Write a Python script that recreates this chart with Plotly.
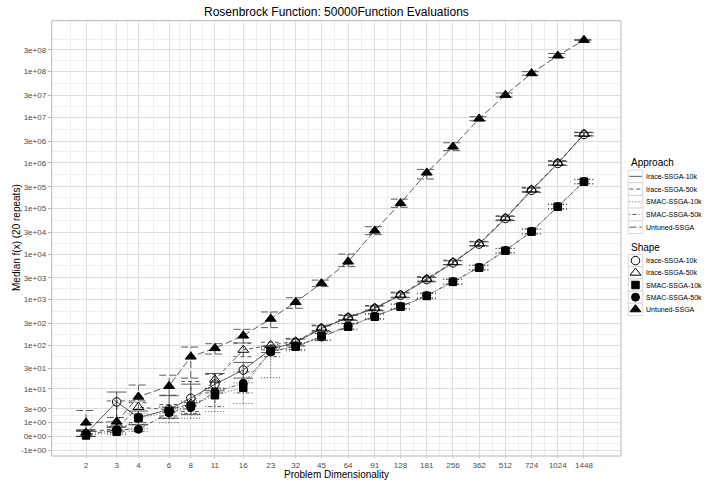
import numpy as np
import plotly.graph_objects as go

# ---------------- data ----------------
dims = [2, 3, 4, 6, 8, 11, 16, 23, 32, 45, 64, 91, 128, 181, 256, 362, 512, 724, 1024, 1448]

approaches = ["Irace-SSGA-10k", "Irace-SSGA-50k", "SMAC-SSGA-10k", "SMAC-SSGA-50k", "Untuned-SSGA"]

irace10_med = [0.15, 4.7, 1.6, 2.9, 5.9, 13, 27.6, 80, 115, 230, 400, 640, 1250, 2750, 6400, 16500, 60000, 250000, 970000, 4.2e6]
irace10_lo = [0.0, 0.6, 0.8, 1.5, 2.0, 9.0, 18, 68, 95, 200, 350, 570, 1100, 2450, 5800, 15000, 54000, 225000, 880000, 3.9e6]
irace10_hi = [0.4, 8.4, 2.6, 6.8, 13, 23, 41, 95, 135, 265, 450, 720, 1400, 3050, 7100, 18500, 67000, 280000, 1.08e6, 4.6e6]

irace50_med = [0.2, 0.5, 3.4, 2.8, 4.2, 16.5, 78, 100, 120, 240, 410, 660, 1280, 2850, 6600, 17000, 62000, 260000, 1.0e6, 4.3e6]
irace50_lo = [0.0, 0.3, 1.0, 1.8, 2.5, 8, 55, 78, 100, 210, 360, 590, 1130, 2550, 5900, 15300, 56000, 235000, 900000, 3.95e6]
irace50_hi = [0.35, 5.0, 4.5, 4.0, 15, 22, 110, 115, 140, 275, 465, 740, 1450, 3200, 7350, 19000, 69000, 290000, 1.12e6, 4.7e6]

smac10_med = [0.05, 0.27, 1.5, 2.5, 3.7, 7.0, 10.7, 74, 92, 158, 254, 420, 700, 1200, 2450, 5000, 11800, 31000, 109000, 386000]
smac10_lo = [0.0, 0.1, 0.5, 1.0, 1.5, 2.5, 4.3, 18.4, 75, 130, 215, 370, 620, 1060, 2150, 4450, 10500, 27500, 97000, 345000]
smac10_hi = [0.3, 0.6, 2.2, 3.5, 5.0, 10.0, 14, 85, 110, 185, 295, 475, 790, 1350, 2750, 5600, 13200, 35000, 122000, 430000]

smac50_med = [0.1, 0.4, 0.43, 2.3, 3.3, 8.5, 13.6, 70, 95, 150, 260, 430, 710, 1230, 2500, 5100, 12000, 31500, 110000, 390000]
smac50_lo = [0.0, 0.2, 0.3, 1.5, 2.2, 3.5, 8, 55, 80, 125, 225, 380, 630, 1090, 2200, 4550, 10700, 28000, 98000, 350000]
smac50_hi = [0.3, 0.7, 0.8, 3.3, 4.5, 10.5, 25, 90, 112, 180, 300, 485, 800, 1380, 2800, 5700, 13400, 35500, 124000, 435000]

untuned_med = [1.0, 1.1, 6.4, 11.7, 55, 85, 161, 378, 880, 2280, 6800, 32500, 130000, 608000, 2.26e6, 9.3e6, 3.08e7, 9.2e7, 2.24e8, 4.95e8]
untuned_lo = [0.3, 0.6, 5.0, 7.0, 18, 63, 111, 242, 645, 1930, 5300, 26600, 106000, 442000, 1.85e6, 8.4e6, 2.79e7, 8.4e7, 2.05e8, 4.8e8]
untuned_hi = [2.7, 1.6, 12.4, 21, 90, 107, 222, 535, 1100, 2680, 10000, 39800, 160000, 718000, 2.76e6, 1.03e7, 3.4e7, 1.0e8, 2.5e8, 5.1e8]

y_tick_values = [-1, 0, 1, 3, 10, 30, 1e2, 3e2, 1e3, 3e3, 1e4, 3e4, 1e5, 3e5, 1e6, 3e6, 1e7, 3e7, 1e8, 3e8]

medians = [irace10_med, irace50_med, smac10_med, smac50_med, untuned_med]
lows = [irace10_lo, irace50_lo, smac10_lo, smac50_lo, untuned_lo]
highs = [irace10_hi, irace50_hi, smac10_hi, smac50_hi, untuned_hi]

# ---------------- styles ----------------
dashes = ["solid", "4px,3px", "1px,2px", "1px,2px,4px,2px", "7px,3px"]
symbols = ["circle-open", "triangle-up-open", "square", "circle", "triangle-up"]
msizes = [8.5, 9.5, 7.5, 8, 9.5]
LINE_COL = "#333333"
FONT = "Liberation Sans, Arial, sans-serif"
W, H = 704, 481
PL, PR, PT, PB = 51.7, 621.0, 20.7, 456.0


def tr(v):
    v = np.asarray(v, dtype=float)
    return np.sign(v) * np.log10(1 + np.abs(v))


fig = go.Figure()

cap = 10 ** 0.056
for k in range(5):
    med, lo, hi = medians[k], lows[k], highs[k]
    ex, ey = [], []
    for x, l, h in zip(dims, lo, hi):
        tl, th = float(tr(l)), float(tr(h))
        ex += [x, x, None, x / cap, x * cap, None, x / cap, x * cap, None]
        ey += [tl, th, None, th, th, None, tl, tl, None]
    fig.add_trace(go.Scatter(x=ex, y=ey, mode="lines", showlegend=False,
                             line=dict(color=LINE_COL, width=0.8, dash=dashes[k]),
                             hoverinfo="skip"))
    fig.add_trace(go.Scatter(x=dims, y=tr(med), mode="lines", showlegend=False,
                             line=dict(color=LINE_COL, width=0.8, dash=dashes[k])))

for k in range(5):
    fig.add_trace(go.Scatter(x=dims, y=tr(medians[k]), mode="markers", showlegend=False,
                             marker=dict(symbol=symbols[k], size=msizes[k], color="black",
                                         line=dict(color="black", width=1))))

# grid helpers
lx = np.log10(dims)
ext_x = np.concatenate([[lx[0] - (lx[1] - lx[0])], lx, [lx[-1] + (lx[-1] - lx[-2])]])
x_minor = 10 ** ((ext_x[:-1] + ext_x[1:]) / 2)
ty = tr(y_tick_values)
ext_y = np.concatenate([[ty[0] - (ty[1] - ty[0])], ty, [ty[-1] + (ty[-1] - ty[-2])]])
y_minor = (ext_y[:-1] + ext_y[1:]) / 2
y_labels = [f"{v:.0e}" for v in y_tick_values]

x_lo = np.log10(2) - (86 - PL) / 52.42 * np.log10(2)
x_hi = np.log10(2) + (PR - 86) / 52.42 * np.log10(2)
ypx = 45.59
y_lo = (436.4 - PB) / ypx
y_hi = (436.4 - PT) / ypx

tickfont = dict(family=FONT, size=8, color="#4D4D4D")
fig.update_layout(
    width=W, height=H, margin=dict(l=0, r=0, t=0, b=0, pad=0),
    paper_bgcolor="white", plot_bgcolor="rgba(0,0,0,0)",
    showlegend=False,
    xaxis=dict(type="log", domain=[PL / W, PR / W], range=[x_lo, x_hi],
               tickmode="array", tickvals=dims, ticktext=[str(d) for d in dims],
               ticks="outside", ticklen=1, tickcolor="#B3B3B3", tickwidth=0.8,
               showgrid=True, gridcolor="#DEDEDE", gridwidth=0.8,
               minor=dict(tickmode="array", tickvals=list(x_minor), showgrid=True,
                          gridcolor="#EFEFEF", gridwidth=0.6, ticks=""),
               zeroline=False, showline=False, tickfont=tickfont, automargin=False,
               anchor="y"),
    yaxis=dict(domain=[1 - PB / H, 1 - PT / H], range=[y_lo, y_hi],
               tickmode="array", tickvals=list(ty), ticktext=y_labels,
               ticks="outside", ticklen=3, tickcolor="#B3B3B3", tickwidth=0.8,
               showgrid=True, gridcolor="#DEDEDE", gridwidth=0.8,
               minor=dict(tickmode="array", tickvals=list(y_minor), showgrid=True,
                          gridcolor="#EFEFEF", gridwidth=0.6, ticks=""),
               zeroline=False, showline=False, tickfont=tickfont, automargin=False,
               anchor="x"),
    xaxis2=dict(domain=[0, 1], range=[0, W], visible=False, anchor="y2", fixedrange=True),
    yaxis2=dict(domain=[0, 1], range=[H, 0], visible=False, anchor="x2", fixedrange=True),
)

shapes = [dict(type="rect", xref="x domain", yref="y domain", x0=0, x1=1, y0=0, y1=1,
               line=dict(color="#B8B8B8", width=1), fillcolor="rgba(0,0,0,0)", layer="above")]
annotations = [
    dict(text="Rosenbrock Function: 50000Function Evaluations", x=336, y=12, xref="x2", yref="y2",
         showarrow=False, font=dict(family=FONT, size=12, color="black"), xanchor="center", yanchor="middle"),
    dict(text="Problem Dimensionality", x=336, y=474.5, xref="x2", yref="y2",
         showarrow=False, font=dict(family=FONT, size=10, color="black"), xanchor="center", yanchor="middle"),
    dict(text="Median f(x) (20 repeats)", x=16, y=238, xref="x2", yref="y2", textangle=-90,
         showarrow=False, font=dict(family=FONT, size=10, color="black"), xanchor="center", yanchor="middle"),
    dict(text="Approach", x=628.5, y=162.5, xref="x2", yref="y2", showarrow=False,
         font=dict(family=FONT, size=10, color="black"), xanchor="left", yanchor="middle"),
    dict(text="Shape", x=628.5, y=247.5, xref="x2", yref="y2", showarrow=False,
         font=dict(family=FONT, size=10, color="black"), xanchor="left", yanchor="middle"),
]

kx0, kx1 = 628.3, 642.7
a_top, a_h = 170.0, 12.7
s_top, s_h = 254.5, 12.2
for k, name in enumerate(approaches):
    # Approach key (line)
    cy = a_top + a_h * (k + 0.5)
    shapes.append(dict(type="rect", xref="x2", yref="y2", x0=kx0, x1=kx1,
                       y0=a_top + a_h * k, y1=a_top + a_h * (k + 1), layer="below",
                       line=dict(color="#D0D0D0", width=0.8), fillcolor="white"))
    fig.add_trace(go.Scatter(x=[kx0 + 1, kx1 - 1], y=[cy, cy], xaxis="x2", yaxis="y2",
                             mode="lines", showlegend=False, hoverinfo="skip",
                             line=dict(color=LINE_COL, width=0.8, dash=dashes[k])))
    annotations.append(dict(text=name, x=644.0, y=cy, xref="x2", yref="y2", showarrow=False,
                            font=dict(family=FONT, size=7, color="black"),
                            xanchor="left", yanchor="middle"))
    # Shape key (marker)
    cy2 = s_top + s_h * (k + 0.5)
    shapes.append(dict(type="rect", xref="x2", yref="y2", x0=kx0, x1=kx1,
                       y0=s_top + s_h * k, y1=s_top + s_h * (k + 1), layer="below",
                       line=dict(color="#D0D0D0", width=0.8), fillcolor="white"))
    fig.add_trace(go.Scatter(x=[(kx0 + kx1) / 2], y=[cy2], xaxis="x2", yaxis="y2",
                             mode="markers", showlegend=False, hoverinfo="skip",
                             marker=dict(symbol=symbols[k], size=msizes[k], color="black",
                                         line=dict(color="black", width=1))))
    annotations.append(dict(text=name, x=644.0, y=cy2, xref="x2", yref="y2", showarrow=False,
                            font=dict(family=FONT, size=7, color="black"),
                            xanchor="left", yanchor="middle"))

fig.update_layout(shapes=shapes, annotations=annotations)
fig.write_html("out.html")
